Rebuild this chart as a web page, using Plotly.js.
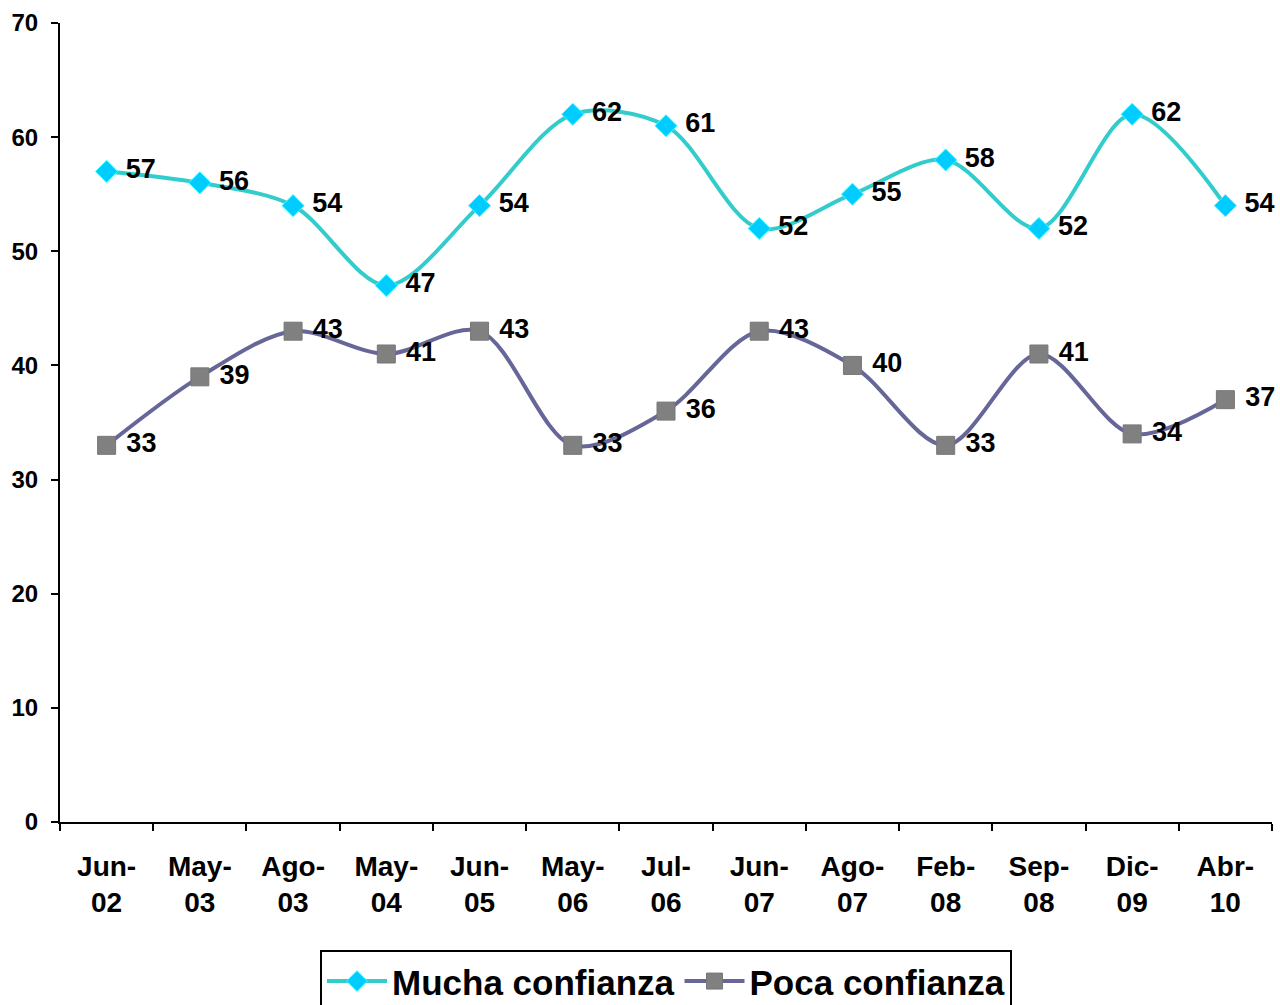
<!DOCTYPE html>
<html>
<head>
<meta charset="utf-8">
<script src="https://cdn.plot.ly/plotly-3.0.1.min.js"></script>
<style>html,body{margin:0;padding:0;background:#fff;}#chart{width:1280px;height:1005px;}</style>
</head>
<body>
<div id="chart"></div>
<script>
var categories = ["Jun-<br>02","May-<br>03","Ago-<br>03","May-<br>04","Jun-<br>05","May-<br>06","Jul-<br>06","Jun-<br>07","Ago-<br>07","Feb-<br>08","Sep-<br>08","Dic-<br>09","Abr-<br>10"];
var mucha = [57,56,54,47,54,62,61,52,55,58,52,62,54];
var poca = [33,39,43,41,43,33,36,43,40,33,41,34,37];
var yTicks = [0,10,20,30,40,50,60,70];

var FONT = "Liberation Sans, Arial, sans-serif";
var labelFont = {family: FONT, size: 27, color: "#000", weight: 700};

var traces = [
  {
    x: categories, y: mucha, name: "Mucha confianza",
    type: "scatter", mode: "lines+markers+text",
    line: {color: "#33CCCC", width: 4, shape: "spline", smoothing: 0.9},
    marker: {symbol: "diamond", size: 17, color: "#00CCFF", line: {color: "#33FFFF", width: 1}},
    text: mucha.map(function(v){ return " " + v; }), textposition: "middle right", textfont: labelFont,
    cliponaxis: false
  },
  {
    x: categories, y: poca, name: "Poca confianza",
    type: "scatter", mode: "lines+markers+text",
    line: {color: "#666699", width: 4, shape: "spline", smoothing: 0.9},
    marker: {symbol: "square", size: 18, color: "#808080", line: {color: "#777777", width: 1}},
    text: poca.map(function(v){ return " " + v; }), textposition: "middle right", textfont: labelFont,
    cliponaxis: false
  }
];

var layout = {
  width: 1280, height: 1005,
  margin: {l: 60, r: 8, t: 23, b: 183, autoexpand: false},
  paper_bgcolor: "#fff", plot_bgcolor: "#fff",
  showlegend: true,
  font: {family: FONT, color: "#000"},
  xaxis: {
    type: "category", tickson: "boundaries",
    showline: true, linecolor: "#000", linewidth: 2,
    ticks: "outside", ticklen: 7, tickwidth: 2, tickcolor: "#000",
    showgrid: false, zeroline: false,
    tickfont: {family: FONT, size: 28, color: "#000", weight: 700},
    ticklabelstandoff: 18,
    range: [-0.5, 12.5]
  },
  yaxis: {
    range: [0, 70], tickvals: yTicks, ticktext: yTicks.map(String),
    showline: true, linecolor: "#000", linewidth: 2,
    ticks: "outside", ticklen: 7, tickwidth: 2, tickcolor: "#000",
    showgrid: false, zeroline: false,
    tickfont: {family: FONT, size: 24, color: "#000", weight: 700},
    ticklabelstandoff: 8
  },
  legend: {
    orientation: "h", x: 0.5, xanchor: "center", y: -0.16, yanchor: "top",
    bordercolor: "#000", borderwidth: 2, bgcolor: "#fff",
    font: {family: FONT, size: 35, color: "#000", weight: 700},
    itemwidth: 60
  }
};

Plotly.newPlot("chart", traces, layout, {displayModeBar: false, staticPlot: true});
</script>
</body>
</html>
